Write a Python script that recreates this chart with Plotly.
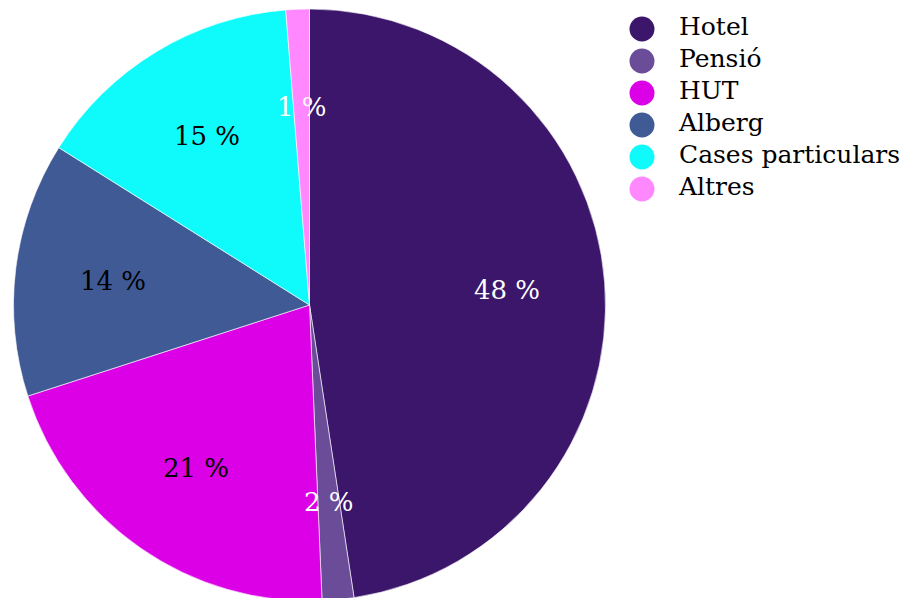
import math
import plotly.graph_objects as go

# ---- data ----
categories = ["Hotel", "Pensió", "HUT", "Alberg", "Cases particulars", "Altres"]
shares = [47.6, 1.73, 20.7, 13.9, 14.8, 1.28]

# ---- styles ----
colors = ["#3b166b", "#6b4c98", "#dc00e6", "#405a96", "#0ffbfb", "#ff88ff"]
label_colors = ["white", "white", "black", "black", "black", "white"]
FONT = "DejaVu Serif"
FS_LEG = 25
FS_LAB = 26

W, H = 904, 612
cx, cy, R = 309.5, 305.0, 296.0
RL = 0.669 * R

fig = go.Figure()
fig.add_trace(go.Pie(
    labels=categories, values=shares, sort=False, direction="clockwise",
    rotation=0, marker=dict(colors=colors, line=dict(color="white", width=0.6)),
    textinfo="none", hoverinfo="label+value", showlegend=False,
    domain=dict(x=[(cx - R) / W, (cx + R) / W],
                y=[(H - (cy + R)) / H, (H - (cy - R)) / H]),
))

# slice labels at a fixed radius on each slice's mid angle
total = sum(shares)
cum = 0.0
annotations = []
for v, col in zip(shares, label_colors):
    mid = (cum + v / 2) / total * 2 * math.pi
    cum += v
    px = cx + RL * math.sin(mid)
    py = cy - RL * math.cos(mid)
    annotations.append(dict(
        x=px / W, y=1 - py / H, xref="paper", yref="paper",
        text=f"{round(v)} %", showarrow=False,
        font=dict(family=FONT, size=FS_LAB, color=col),
        xanchor="center", yanchor="middle",
    ))

# legend drawn as a scatter on hidden axes
fig.add_trace(go.Scatter(
    x=[0] * len(categories), y=categories, mode="markers",
    marker=dict(size=25, color=colors), cliponaxis=False,
    showlegend=False, hoverinfo="skip", xaxis="x", yaxis="y",
))
fig.add_trace(go.Scatter(
    x=[37] * len(categories), y=categories, mode="text", text=categories,
    textposition="middle right", textfont=dict(family=FONT, size=FS_LEG, color="black"),
    cliponaxis=False, showlegend=False, hoverinfo="skip", xaxis="x", yaxis="y",
))

lx0 = 642
top_row, step = 29, 32
n = len(categories)
y_top = top_row - step / 2
y_bot = top_row + step * (n - 0.5)
fig.update_layout(
    width=W, height=H,
    margin=dict(l=0, r=0, t=0, b=0),
    paper_bgcolor="white", plot_bgcolor="rgba(0,0,0,0)",
    annotations=annotations,
    xaxis=dict(domain=[lx0 / W, 1], range=[0, W - lx0], visible=False, fixedrange=True),
    yaxis=dict(domain=[1 - y_bot / H, 1 - y_top / H], range=[n - 0.5, -0.5],
               type="category", categoryorder="array", categoryarray=categories,
               visible=False, fixedrange=True),
    font=dict(family=FONT),
)

fig.write_html("out.html",
               post_script="document.documentElement.style.overflow='hidden';document.body.style.overflow='hidden';document.body.style.margin='0';")
